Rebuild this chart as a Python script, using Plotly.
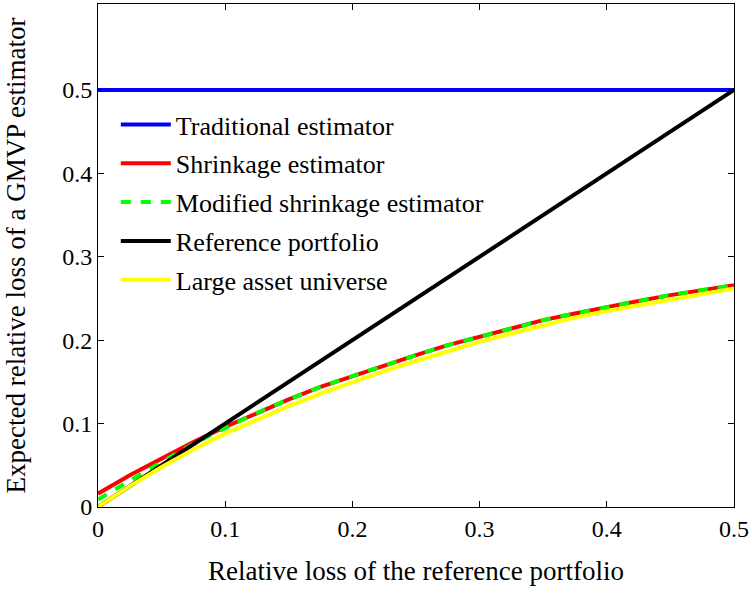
import plotly.graph_objects as go

x_vals = [0.0, 0.025, 0.05, 0.075, 0.1, 0.125, 0.15, 0.175, 0.2, 0.225, 0.25,
          0.275, 0.3, 0.325, 0.35, 0.375, 0.4, 0.425, 0.45, 0.475, 0.5]
traditional = [0.5] * len(x_vals)
shrinkage = [0.016, 0.038, 0.058, 0.078, 0.096, 0.113, 0.129, 0.144, 0.157, 0.170, 0.182,
             0.194, 0.204, 0.214, 0.224, 0.232, 0.240, 0.247, 0.254, 0.260, 0.266]
modified = [0.009, 0.032, 0.054, 0.076, 0.095, 0.113, 0.129, 0.144, 0.157, 0.170, 0.182,
            0.194, 0.204, 0.214, 0.224, 0.232, 0.240, 0.247, 0.254, 0.260, 0.266]
reference = [0.0, 0.025, 0.05, 0.075, 0.1, 0.125, 0.15, 0.175, 0.2, 0.225, 0.25,
             0.275, 0.3, 0.325, 0.35, 0.375, 0.4, 0.425, 0.45, 0.475, 0.5]
large_universe = [0.0, 0.025, 0.048, 0.069, 0.088, 0.105, 0.121, 0.136, 0.150, 0.163, 0.175,
                  0.187, 0.198, 0.208, 0.218, 0.227, 0.235, 0.242, 0.249, 0.256, 0.262]

x_ticks = [0, 0.1, 0.2, 0.3, 0.4, 0.5]
x_tick_labels = ["0", "0.1", "0.2", "0.3", "0.4", "0.5"]
y_ticks = [0, 0.1, 0.2, 0.3, 0.4, 0.5]
y_tick_labels = ["0", "0.1", "0.2", "0.3", "0.4", "0.5"]

FONT = "Liberation Serif, DejaVu Serif, Noto Serif, Times New Roman, serif"

fig = go.Figure()
series = [
    ("Traditional estimator", traditional, "#0000ff", "solid"),
    ("Shrinkage estimator", shrinkage, "#ff0000", "solid"),
    ("Modified shrinkage estimator", modified, "#00ff00", "10px,10px"),
    ("Reference portfolio", reference, "#000000", "solid"),
    ("Large asset universe", large_universe, "#ffff00", "solid"),
]
for i, (name, ys, color, dash) in enumerate(series):
    fig.add_trace(go.Scatter(
        x=x_vals, y=ys, mode="lines",
        name=f"<span style='font-family:Liberation Serif, serif'>{name}</span>",
        legendgroup=f"g{i}",
        line=dict(color=color, width=4, dash=dash),
    ))

axis_common = dict(
    showline=True, linecolor="black", linewidth=1, mirror="ticks",
    ticks="inside", ticklen=6, tickcolor="black", showgrid=False, zeroline=False,
    tickfont=dict(family=FONT, size=24, color="black"),
)
fig.update_layout(
    width=752, height=593,
    margin=dict(l=98, r=15, t=3, b=86),
    paper_bgcolor="white", plot_bgcolor="white",
    font=dict(family=FONT, color="black"),
    xaxis=dict(range=[0, 0.5], tickvals=x_ticks, ticktext=x_tick_labels,
               title=dict(text="Relative loss of the reference portfolio",
                          font=dict(family=FONT, size=27), standoff=20),
               **axis_common),
    yaxis=dict(range=[0, 0.603], tickvals=y_ticks, ticktext=y_tick_labels,
               title=dict(text="Expected relative loss of a GMVP estimator",
                          font=dict(family=FONT, size=27), standoff=28),
               **axis_common),
    legend=dict(x=0.028, y=0.807, xanchor="left", yanchor="top",
                bgcolor="rgba(0,0,0,0)", borderwidth=0,
                font=dict(family=FONT, size=26, color="black"),
                traceorder="grouped", tracegroupgap=2, itemwidth=50),
    showlegend=True,
)
fig.write_html("out.html", config={"displayModeBar": False},
               post_script="document.body.style.margin='0';")
